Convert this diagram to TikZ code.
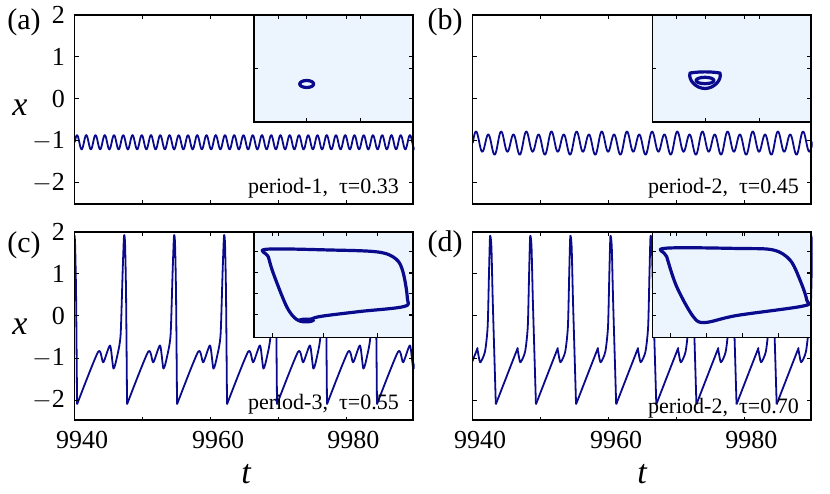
\documentclass[tikz,border=0pt]{standalone}
\usepackage{fontspec}
\setmainfont{Liberation Serif}
\definecolor{navy}{RGB}{10,10,140}
\definecolor{insetbg}{RGB}{236,245,254}
\begin{document}
\begin{tikzpicture}[x=1pt, y=-1pt,
    ticklab/.style={font=\rmfamily\fontsize{26}{28}\selectfont, inner sep=1pt},
    panlab/.style={font=\rmfamily\fontsize{30}{32}\selectfont, inner sep=0pt},
    axlab/.style={font=\rmfamily\fontsize{34}{36}\selectfont\itshape, inner sep=0pt},
    caplab/.style={font=\rmfamily\fontsize{22}{24}\selectfont, inner sep=1pt, anchor=east},
    framebox/.style={draw=black, line width=1.5pt},
    insetbox/.style={draw=black, line width=1.3pt, fill=insetbg},
    trace/.style={draw=navy, line width=1.8pt, line join=round},
    loopline/.style={draw=navy, line width=3.2pt, line join=round}
]
\useasboundingbox (0,0) rectangle (830,494);

% ----- panel (a) -----
\begin{scope}[shift={(74.7,99)}, x=6.8pt, y=42pt]
  \clip (0,-2.5) rectangle (50,2);
  \draw[trace] plot[domain=0:50, samples=500, smooth] (\x, {-1.03+0.17*sin(264.7*\x)});
\end{scope}
\draw[insetbox] (254,15) rectangle (413,122);
\foreach \tx in {306,360} {\draw[line width=1pt] (\tx,122) -- (\tx,118); \draw[line width=1pt] (\tx,15) -- (\tx,19);}
\draw[line width=1pt] (254,69) -- (258,69); \draw[line width=1pt] (413,69) -- (409,69);
\draw[loopline] (306.7,84) ellipse (7pt and 3.5pt);
\draw[framebox] (74.7,15) rectangle (413,204);
\node[caplab] (capa) at (400,188) {period-1,\ \ τ=0.33};
\node[panlab] (laba) at (24,22) {(a)};

% ----- panel (b) -----
\begin{scope}[shift={(472.7,99)}, x=6.8pt, y=42pt]
  \clip (0,-2.5) rectangle (50,2);
  \draw[trace] plot[domain=0:50, samples=600, smooth] (\x, {-1.05+0.24*sin(194.6*\x)+0.05*sin(97.3*\x)});
\end{scope}
\draw[insetbox] (652.3,15) rectangle (811,122);
\foreach \tx in {705,759} {\draw[line width=1pt] (\tx,122) -- (\tx,118); \draw[line width=1pt] (\tx,15) -- (\tx,19);}
\draw[line width=1pt] (652.3,69) -- (656.3,69); \draw[line width=1pt] (811,69) -- (807,69);
\draw[loopline] (690,73) .. controls (700,71.5) and (710,71.5) .. (720,73) .. controls (722,80) and (714,88.5) .. (705,88.5) .. controls (696,88.5) and (688,80) .. (690,73) -- cycle;
\draw[loopline] (705,80.5) ellipse (9pt and 3.2pt);
\draw[framebox] (472.7,15) rectangle (811,204);
\node[caplab] (capb) at (800,188) {period-2,\ \ τ=0.45};
\node[panlab] (labb) at (445,22) {(b)};

% ----- panel (c) -----
\begin{scope}[shift={(74.7,314)}, x=6.8pt, y=42pt]
  \clip (0,-2.5) rectangle (50,2);
  \foreach \k in {-1,...,6} {
    \draw[trace, shift={(0.35+\k*7.35,0)}] plot[smooth, tension=0.4] coordinates {
      (0,-2.15) (3.1,-0.9) (3.85,-1.15) (4.85,-0.75) (5.35,-1.3) (5.9,-1.0)
      (6.4,-0.5) (6.7,1.0) (6.9,1.85) (7.05,1.7) (7.2,0.5) (7.35,-2.15)};
  }
\end{scope}
\draw[insetbox] (254,232) rectangle (413,337.3);
\foreach \tx in {272,323,377} {\draw[line width=1pt] (\tx,337.3) -- (\tx,333.3); \draw[line width=1pt] (\tx,232) -- (\tx,236);}
\foreach \ty in {252,273,294,315} {\draw[line width=1pt] (254,\ty) -- (258,\ty); \draw[line width=1pt] (413,\ty) -- (409,\ty);}
\draw[loopline] plot[smooth cycle, tension=0.55] coordinates {
  (266,249.3) (330,250) (378,252) (396,259) (403,272) (407.3,298) (404,306.5)
  (360,311.5) (320,316.5) (306.7,320.5) (296.7,319.5) (286.7,306.7) (273.3,273.3) (268.3,256.7)};
\fill[navy] (306,320.5) ellipse (9pt and 3pt);
\draw[framebox] (74.7,232) rectangle (413,420);
\node[caplab] (capc) at (400,404) {period-3,\ \ τ=0.55};
\node[panlab] (labc) at (24,245) {(c)};

% ----- panel (d) -----
\begin{scope}[shift={(472.7,314)}, x=6.8pt, y=42pt]
  \clip (0,-2.5) rectangle (50,2);
  \foreach \k in {-1,...,7} {
    \draw[trace, shift={(3.4+\k*5.9,0)}] plot[smooth, tension=0.4] coordinates {
      (0,-2.15) (3.0,-0.9) (3.2,-0.85) (3.6,-1.15) (4.3,-0.9) (4.7,-0.3)
      (4.9,1.0) (5.05,1.85) (5.25,1.6) (5.45,0.3) (5.9,-2.15)};
  }
\end{scope}
\draw[insetbox] (652.3,232) rectangle (811,337.3);
\foreach \tx in {670,706,742,778} {\draw[line width=1pt] (\tx,337.3) -- (\tx,333.3); \draw[line width=1pt] (\tx,232) -- (\tx,236);}
\foreach \ty in {252,273,294,315.5} {\draw[line width=1pt] (652.3,\ty) -- (656.3,\ty); \draw[line width=1pt] (811,\ty) -- (807,\ty);}
\draw[loopline] plot[smooth cycle, tension=0.55] coordinates {
  (665,248.3) (740,248.5) (773.3,250) (790,260) (800,280) (806.7,300) (803.3,306)
  (736.7,315.5) (705,322.5) (693.3,316.7) (676.7,286.7) (666.7,256.7)};
\draw[framebox] (472.7,232) rectangle (811,420);
\node[caplab] (capd) at (800,408) {period-2,\ \ τ=0.70};
\node[panlab] (labd) at (445,244) {(d)};

% ----- ticks and labels -----
\foreach \px/\py in {74.7/15, 472.7/15, 74.7/232, 472.7/232} {
  \foreach \tx in {68,136,203.6,271.3} {
    \draw[line width=1pt] (\px+\tx,\py+189) -- (\px+\tx,\py+185);
    \draw[line width=1pt] (\px+\tx,\py) -- (\px+\tx,\py+4);
  }
  \foreach \ty in {0,42,84,126,168} {
    \draw[line width=1pt] (\px,\py+\ty) -- (\px+4,\py+\ty);
    \draw[line width=1pt] (\px+338.3,\py+\ty) -- (\px+334.3,\py+\ty);
  }
}
\foreach \yv/\ty in {2/0,1/42,0/84,{$-$1}/126,{$-$2}/168} {
  \node[ticklab, anchor=east] at (66,15+\ty) {\yv};
  \node[ticklab, anchor=east] at (66,232+\ty) {\yv};
}
\foreach \xv/\tx in {9940/0,9960/136,9980/271.3} {
  \node[ticklab] at (82+\tx,440) {\xv};
  \node[ticklab] at (480+\tx,440) {\xv};
}
\node[axlab] (xa) at (20,108) {x};
\node[axlab] (xc) at (20,327) {x};
\node[axlab] (tc) at (246,474) {t};
\node[axlab] (td) at (642,474) {t};
\end{tikzpicture}
\end{document}
